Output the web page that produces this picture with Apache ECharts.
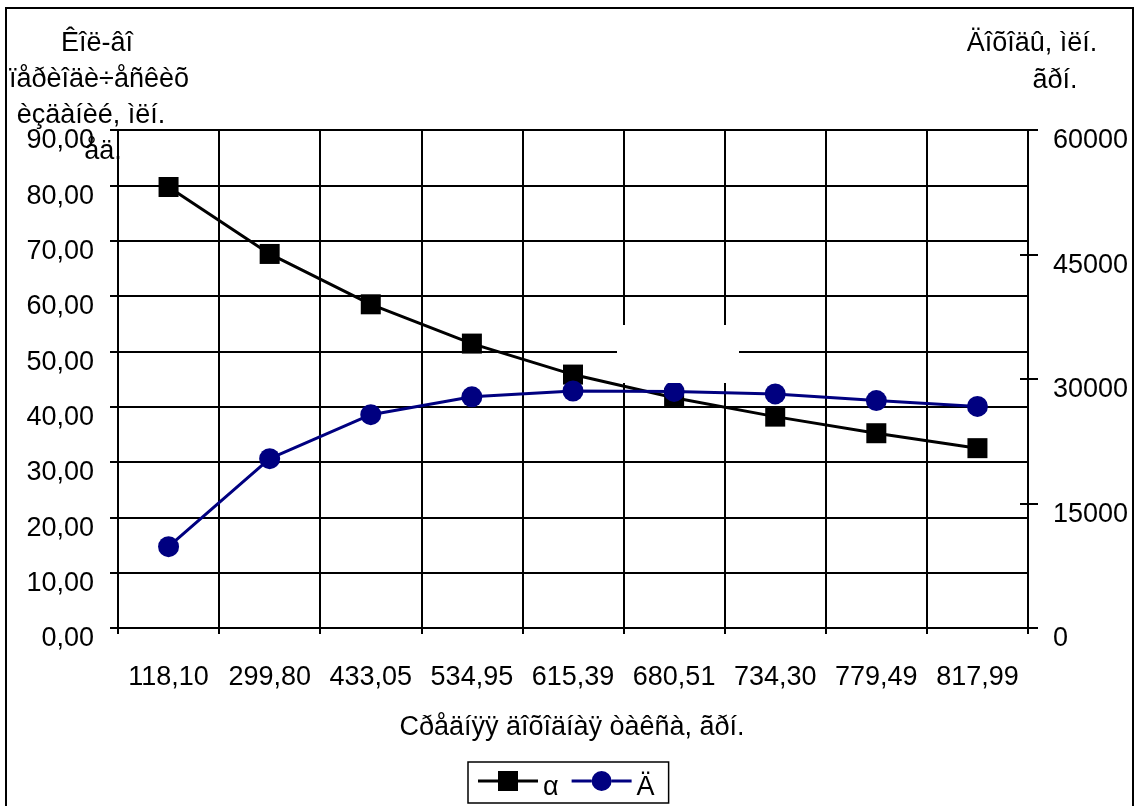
<!DOCTYPE html>
<html>
<head>
<meta charset="utf-8">
<script src="https://cdn.jsdelivr.net/npm/echarts@6/dist/echarts.min.js"></script>
<style>
  html, body { margin: 0; padding: 0; background: #fff; }
  #chart { width: 1135px; height: 806px; }
</style>
</head>
<body>
<div id="chart"></div>
<script>
// Average tariff categories (x axis)
const categories = ['118,10', '299,80', '433,05', '534,95', '615,39', '680,51', '734,30', '779,49', '817,99'];
// Number of periodicals, mln units (left axis)
const alphaValues = [79.7, 67.6, 58.5, 51.4, 45.8, 41.6, 38.2, 35.2, 32.5];
// Revenue, mln UAH (right axis)
const incomeValues = [9800, 20400, 25700, 27850, 28550, 28500, 28200, 27400, 26700];

const leftTicks = { min: 0, max: 90, interval: 10 };
const rightTicks = { min: 0, max: 60000, interval: 15000 };

const FONT = 'Liberation Sans, Arial, sans-serif';
const FS = 27;
const INK = '#000';
const NAVY = '#000080';

// legend glyphs: a line segment with the series marker in its middle
const ICON_SQUARE = 'path://M0,8.5H20V11.5H0Z M20,0H40V20H20Z M40,8.5H60V11.5H40Z';
const ICON_CIRCLE = 'path://M0,8.5H20V11.5H0Z M20,10A10,10 0 1 1 40,10A10,10 0 1 1 20,10Z M40,8.5H60V11.5H40Z';

const chart = echarts.init(document.getElementById('chart'), null, { renderer: 'canvas' });

const txt = (text, x, y) => ({
  type: 'text', x: x, y: y, z: 50,
  style: { text: text, fill: INK, font: FS + 'px ' + FONT, textAlign: 'center', textVerticalAlign: 'middle' }
});

chart.setOption({
  animation: false,
  backgroundColor: '#fff',
  textStyle: { fontFamily: FONT },
  grid: { left: 118, right: 107, top: 130, bottom: 178, containLabel: false },
  legend: {
    left: 468, top: 762,
    padding: [9, 14, 2, 10],
    borderColor: INK, borderWidth: 1.5,
    itemWidth: 60, itemHeight: 20, itemGap: 13,
    formatter: name => '{t|' + name + '}',
    textStyle: {
      color: INK, fontFamily: FONT, fontSize: FS,
      rich: { t: { fontSize: FS, color: INK, lineHeight: 40, verticalAlign: 'bottom' } }
    },
    data: [
      { name: 'α', icon: ICON_SQUARE },
      { name: 'Ä', icon: ICON_CIRCLE }
    ]
  },
  xAxis: {
    type: 'category',
    data: categories,
    boundaryGap: true,
    axisLine: { lineStyle: { color: INK, width: 2 } },
    axisTick: { show: true, length: 6, lineStyle: { color: INK, width: 2 } },
    axisLabel: { color: INK, fontSize: FS, margin: 36, interval: 0 },
    splitLine: { show: true, interval: 0, lineStyle: { color: '#000', width: 2 } }
  },
  yAxis: [
    {
      type: 'value', position: 'left',
      min: leftTicks.min, max: leftTicks.max, interval: leftTicks.interval,
      axisLine: { show: true, lineStyle: { color: INK, width: 2 } },
      axisTick: { show: true, length: 8, lineStyle: { color: INK, width: 2 } },
      axisLabel: {
        color: INK, fontSize: FS, margin: 24, verticalAlign: 'top', lineHeight: 22,
        formatter: v => v.toFixed(2).replace('.', ',')
      },
      splitLine: { show: true, lineStyle: { color: '#000', width: 2 } }
    },
    {
      type: 'value', position: 'right',
      min: rightTicks.min, max: rightTicks.max, interval: rightTicks.interval,
      axisLine: { show: true, lineStyle: { color: INK, width: 2 } },
      axisTick: { show: true, length: 10, lineStyle: { color: INK, width: 2 } },
      axisLabel: {
        color: INK, fontSize: FS, margin: 25, verticalAlign: 'top', lineHeight: 22,
        formatter: v => String(v)
      },
      splitLine: { show: false }
    },
    {
      // inner half of the crossing ticks on the revenue axis
      type: 'value', position: 'right',
      min: rightTicks.min, max: rightTicks.max, interval: rightTicks.interval,
      axisLine: { show: false },
      axisTick: { show: true, inside: true, length: 8, lineStyle: { color: INK, width: 2 } },
      axisLabel: { show: false },
      splitLine: { show: false }
    }
  ],
  series: [
    {
      name: 'α', type: 'line', yAxisIndex: 0,
      data: alphaValues,
      symbol: 'rect', symbolSize: 20,
      lineStyle: { color: INK, width: 3 },
      itemStyle: { color: INK },
      z: 3
    },
    {
      name: 'Ä', type: 'line', yAxisIndex: 1,
      data: incomeValues,
      symbol: 'circle', symbolSize: 21,
      lineStyle: { color: NAVY, width: 3 },
      itemStyle: { color: NAVY },
      z: 4
    }
  ],
  graphic: [
    {
      type: 'rect', z: -10, silent: true,
      shape: { x: 6, y: 8, width: 1127, height: 830 },
      style: { fill: 'none', stroke: INK, lineWidth: 2 }
    },
    {
      type: 'rect', z: 100, silent: true,
      shape: { x: 617, y: 325, width: 122, height: 58 },
      style: { fill: '#fff', stroke: 'none' }
    },
    txt('Êîë-âî', 97, 44),
    txt('ïåðèîäè÷åñêèõ', 99, 80),
    txt('èçäàíèé, ìëí.', 91, 116),
    txt('åä.', 103, 152),
    txt('Äîõîäû, ìëí.', 1032, 44),
    txt('ãðí.', 1055, 81),
    txt('Cðåäíÿÿ äîõîäíàÿ òàêñà, ãðí.', 572, 728)
  ]
});
</script>
</body>
</html>
